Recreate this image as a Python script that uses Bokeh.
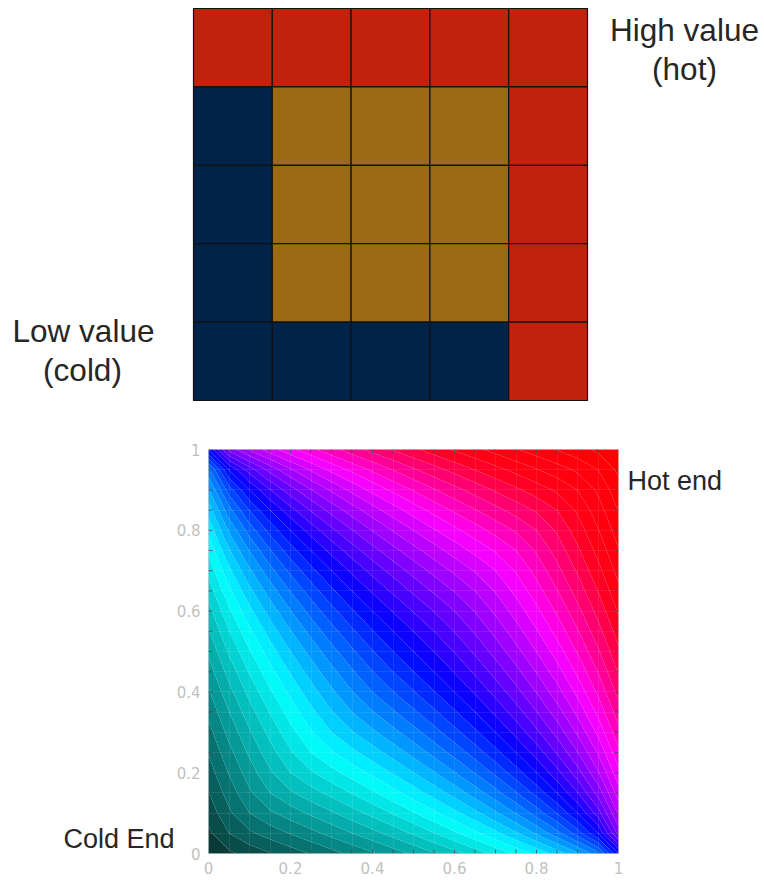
import numpy as np
from bokeh.plotting import figure
from bokeh.layouts import column
from bokeh.models import FixedTicker, Grid, BoxAnnotation
from bokeh.embed import file_html
from bokeh.resources import INLINE
from bokeh.core.properties import value

# ---------------- data ----------------
# 5x5 grid (top row first): category of each cell
grid_rows = [
    ["hot", "hot", "hot", "hot", "hot"],
    ["cold", "medium", "medium", "medium", "hot"],
    ["cold", "medium", "medium", "medium", "hot"],
    ["cold", "medium", "medium", "medium", "hot"],
    ["cold", "cold", "cold", "cold", "hot"],
]
category_colors = {"hot": "#c0220b", "medium": "#9b6a15", "cold": "#00234a"}
top_texts = ["High value", "(hot)", "Low value", "(cold)"]

# continuous surface: corner values cold (0,0)=0, (0,1)=(1,0)=0.5, hot (1,1)=1
mesh_x = np.linspace(0.0, 1.0, 21)
mesh_y = np.linspace(0.0, 1.0, 21)
band_count = 40
colormap_stops = [0.0, 0.27, 0.5, 0.72, 0.87, 1.0]
colormap_colors = ["#0b302d", "#00ffff", "#0000ff", "#ff00ff", "#ff0018", "#ff0000"]
tick_values = [0, 0.2, 0.4, 0.6, 0.8, 1]
tick_labels = ["0", "0.2", "0.4", "0.6", "0.8", "1"]
minor_tick_values = [round(v, 2) for v in np.arange(0, 1.0001, 0.05)]
bottom_texts = ["Hot end", "Cold End"]

FONT = "Liberation Sans"
TEXT_COLOR = "#262626"
W = 760

# ---------------- top figure (page y 0..408) ----------------
H1 = 408
G_LEFT = 193.0      # grid left edge (px)
G_TOP = 8.0         # grid top edge (px)
G_W = 394.0
G_H = 392.0
sx = G_W / 5.0
sy = G_H / 5.0
x0 = -G_LEFT / sx
x1 = (W - G_LEFT) / sx
y1 = 5.0 + G_TOP / sy
y0 = y1 - H1 / sy

p1 = figure(width=W, height=H1, x_range=(x0, x1), y_range=(y0, y1),
            output_backend="svg", toolbar_location=None,
            x_axis_type=None, y_axis_type=None, min_border=0)
p1.outline_line_color = None
p1.background_fill_color = "white"
p1.border_fill_color = "white"

lefts, rights, bottoms, tops, colors = [], [], [], [], []
for r, row in enumerate(grid_rows):
    for c, cat in enumerate(row):
        lefts.append(c)
        rights.append(c + 1)
        bottoms.append(4 - r)
        tops.append(5 - r)
        colors.append(category_colors[cat])
p1.quad(left=lefts, right=rights, bottom=bottoms, top=tops,
        fill_color=colors, line_color="#111111", line_width=1.2)


def top_pos(px, py):
    return x0 + px / sx, y1 - py / sy


tpos = [top_pos(684, 29), top_pos(684, 68), top_pos(83, 330), top_pos(82, 369)]
p1.text(x=[t[0] for t in tpos], y=[t[1] for t in tpos], text=top_texts,
        text_align="center", text_baseline="middle",
        text_font=value(FONT), text_font_size="31.5px", text_color=TEXT_COLOR)

# ---------------- bottom figure (page y 408..878) ----------------
TOP2 = 408.0
H2 = 470
PX_PER_X = 410.0
PX_PER_Y = 404.0
FRAME_LEFT = 208.0
FRAME_BOTTOM = 853.0
bx0 = -FRAME_LEFT / PX_PER_X
bx1 = (W - FRAME_LEFT) / PX_PER_X
by1 = (FRAME_BOTTOM - TOP2) / PX_PER_Y
by0 = (FRAME_BOTTOM - TOP2 - H2) / PX_PER_Y

p2 = figure(width=W, height=H2, x_range=(bx0, bx1), y_range=(by0, by1),
            output_backend="svg", toolbar_location=None,
            x_axis_type=None, y_axis_type=None, min_border=0)
p2.outline_line_color = None
p2.background_fill_color = "white"
p2.border_fill_color = "white"

X, Y = np.meshgrid(mesh_x, mesh_y)
A = X + Y - 1.0
d = np.abs(X - Y)
e = 0.05
B = (np.sqrt(d ** 2 + e ** 2) - e) / (np.sqrt(1 + e ** 2) - e)
D = np.sqrt(np.clip(1.0 - B, 0.0, None))
safeD = np.where(D > 1e-9, D, 1.0)
Z = np.where(D > 1e-9, 0.5 + 0.5 * A / safeD, 0.5)
Z = np.clip(Z, 0.0, 1.0)

levels = list(np.linspace(0.0, 1.0, band_count + 1))
levels[0] = -0.001
levels[-1] = 1.001


def hex_to_rgb(h):
    h = h.lstrip("#")
    return [int(h[i:i + 2], 16) for i in (0, 2, 4)]


stops_rgb = np.array([hex_to_rgb(c) for c in colormap_colors], dtype=float)
palette = []
for i in range(band_count):
    m = (i + 0.5) / band_count
    rgb = [int(round(np.interp(m, colormap_stops, stops_rgb[:, k]))) for k in range(3)]
    palette.append("#%02x%02x%02x" % tuple(rgb))

cr = p2.contour(mesh_x, mesh_y, Z, levels, fill_color=palette, line_color=None)
cr.fill_renderer.glyph.line_color = cr.fill_renderer.glyph.fill_color
cr.fill_renderer.glyph.line_width = 0.6

# faint mesh lines over the surface
for dim in (0, 1):
    g = Grid(dimension=dim, ticker=FixedTicker(ticks=minor_tick_values), bounds=(0, 1),
             grid_line_color="white", grid_line_alpha=0.09, level="overlay")
    p2.add_layout(g)

# frame border
p2.add_layout(BoxAnnotation(left=0, right=1, bottom=0, top=1, fill_alpha=0,
                            line_color="#9a9a9a", line_width=1, level="overlay"))

# inward tick marks on all four sides
tlx = 4.0 / PX_PER_X
tly = 4.0 / PX_PER_Y
inner = minor_tick_values[1:-1]
n = len(inner)
tick_col = "#3a3a3a"
p2.segment(x0=inner, y0=[0] * n, x1=inner, y1=[tly] * n, line_color=tick_col, line_alpha=0.8)
p2.segment(x0=inner, y0=[1] * n, x1=inner, y1=[1 - tly] * n, line_color=tick_col, line_alpha=0.8)
p2.segment(x0=[0] * n, y0=inner, x1=[tlx] * n, y1=inner, line_color=tick_col, line_alpha=0.8)
p2.segment(x0=[1] * n, y0=inner, x1=[1 - tlx] * n, y1=inner, line_color=tick_col, line_alpha=0.8)

# tick labels
p2.text(x=tick_values, y=[0] * len(tick_values), text=tick_labels, y_offset=14,
        text_align="center", text_baseline="middle", text_font=value("DejaVu Sans"),
        text_font_size="15px", text_color="#c0c0c0")
p2.text(x=[0] * len(tick_values), y=tick_values, text=tick_labels, x_offset=-8,
        text_align="right", text_baseline="middle", text_font=value("DejaVu Sans"),
        text_font_size="15px", text_color="#c0c0c0")

# annotations beside the surface
p2.text(x=[(627 - FRAME_LEFT) / PX_PER_X, (63 - FRAME_LEFT) / PX_PER_X],
        y=[(FRAME_BOTTOM - 480) / PX_PER_Y, (FRAME_BOTTOM - 838) / PX_PER_Y],
        text=bottom_texts, text_align="left", text_baseline="middle",
        text_font=value(FONT), text_font_size="27px", text_color=TEXT_COLOR)

layout = column(p1, p2, spacing=0)
open("out.html", "w").write(file_html(layout, INLINE))
